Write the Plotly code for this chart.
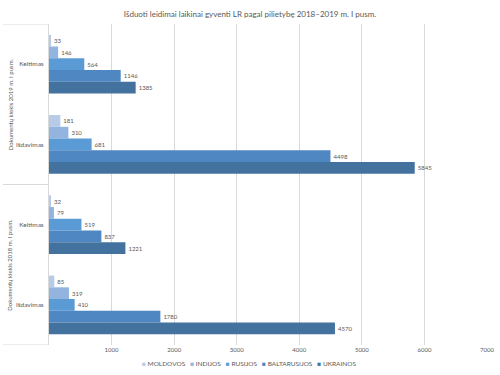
import plotly.graph_objects as go

title = "Išduoti leidimai laikinai gyventi LR pagal pilietybę 2018–2019 m. I pusm."
groups = ["Dokumentų kiekis 2019 m. I pusm.", "Dokumentų kiekis 2018 m. I pusm."]
categories = ["Keitimas", "Išdavimas", "Keitimas", "Išdavimas"]
cat_group = [0, 0, 1, 1]
series_names = ["MOLDOVOS", "INDIJOS", "RUSIJOS", "BALTARUSIJOS", "UKRAINOS"]
moldovos = [33, 181, 32, 85]
indijos = [146, 310, 79, 319]
rusijos = [564, 681, 519, 410]
baltarusijos = [1146, 4498, 837, 1780]
ukrainos = [1385, 5845, 1221, 4570]
series_values = [moldovos, indijos, rusijos, baltarusijos, ukrainos]
x_ticks = [1000, 2000, 3000, 4000, 5000, 6000, 7000]

colors = ["#b7cbe9", "#92b4df", "#5b9bd5", "#4e87c1", "#44729f"]
font = "Lato, 'Open Sans', sans-serif"
grey = "#595959"

ypos = list(range(len(categories)))

fig = go.Figure()
for name, vals, col in zip(series_names, series_values, colors):
    fig.add_trace(go.Bar(
        y=ypos, x=vals, name=name, orientation="h",
        marker=dict(color=col, line=dict(width=0)),
        text=[str(v) for v in vals], textposition="outside",
        textfont=dict(size=6, color=grey, family=font),
        cliponaxis=False,
    ))

fig.update_layout(
    width=500, height=375,
    margin=dict(l=49, r=13, t=24, b=30, autoexpand=False),
    paper_bgcolor="white", plot_bgcolor="white",
    barmode="group", bargap=0.27, bargroupgap=0,
    title=dict(text=title, x=0.5, xanchor="center", y=0.963, yanchor="middle",
               font=dict(size=8, color=grey, family=font)),
    font=dict(family=font, color=grey),
    showlegend=False,
)
fig.update_xaxes(range=[0, 7000], tickvals=x_ticks, showgrid=True, gridcolor="#d9d9d9",
                 gridwidth=1, zeroline=False, showline=False, automargin=False,
                 tickfont=dict(size=6, color=grey, family=font), ticks="", ticklen=8)
fig.update_yaxes(range=[3.5, -0.5], tickvals=ypos, ticktext=categories,
                 showgrid=False, zeroline=False, showline=True, linecolor="#d9d9d9",
                 linewidth=1, ticks="", automargin=False, ticklabelstandoff=3,
                 tickfont=dict(size=6.5, color=grey, family=font))

# group separator lines and outer labels
for b in [-0.5, 1.5, 3.5]:
    fig.add_shape(type="line", xref="paper", yref="y", x0=-0.105, x1=0, y0=b, y1=b,
                  line=dict(color="#d9d9d9", width=1))
for gi, g in enumerate(groups):
    idx = [i for i, c in enumerate(cat_group) if c == gi]
    yc = sum(idx) / len(idx)
    fig.add_annotation(text=g, xref="paper", yref="y", x=-0.089, y=yc,
                       textangle=-90, showarrow=False, xanchor="center", yanchor="middle",
                       font=dict(size=6, color=grey, family=font))

# legend as a single centred text line
legend_text = "   ".join(
    f"<span style='color:{c}'>■</span> {n}" for n, c in zip(series_names, colors))
fig.add_annotation(text=legend_text, xref="paper", yref="paper", x=0.457, y=-0.059,
                   xanchor="center", yanchor="middle", showarrow=False,
                   font=dict(size=6.5, color=grey, family=font))

fig.write_html("out.html", config={"displayModeBar": False},
               post_script="document.body.style.margin='0';")
